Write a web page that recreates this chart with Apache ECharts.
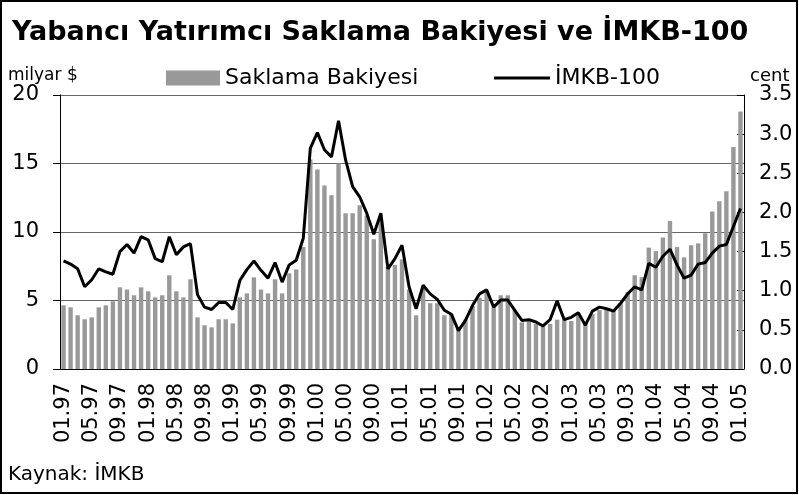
<!DOCTYPE html>
<html>
<head>
<meta charset="utf-8">
<script src="https://cdn.jsdelivr.net/npm/echarts@6/dist/echarts.min.js"></script>
<style>
    html,body{
        margin: 0;
        padding: 0;
        background: #fff;
    }
    #chart{
        width: 799px;
        height: 495px;
    }
</style>
</head>
<body>
<div id="chart"></div>
<script>
// aylar: 01.97 - 01.05
var months = [];
for (var y = 97; y <= 105; y++) {
    for (var m = 1; m <= 12; m++) {
        if (y == 105 && m > 1) break;
        months.push((m < 10 ? '0' + m : '' + m) + '.' + (y % 100 < 10 ? '0' + (y % 100) : '' + y));
    }
}

// milyar $
var saklama = [
    4.65, 4.5, 3.92, 3.63, 3.77, 4.5, 4.65, 4.94, 5.96, 5.8, 5.38, 5.96, 5.67, 5.23,
    5.38, 6.84, 5.67, 5.23, 6.55, 3.77, 3.19, 3.04, 3.63, 3.63, 3.33, 5.23, 5.52, 6.69,
    5.8, 5.52, 6.55, 5.52, 6.98, 7.27, 8.9, 15.3, 14.57, 13.4, 12.68, 15.0, 11.36, 11.36,
    11.95, 11.2, 9.47, 11.0, 7.42, 7.6, 8.0, 5.8, 3.92, 5.9, 4.8, 4.8, 3.92, 4.0,
    3.0, 3.6, 4.6, 5.2, 5.7, 4.5, 5.38, 5.38, 4.3, 3.4, 3.5, 3.3, 3.1, 3.3,
    3.6, 3.6, 3.5, 4.1, 3.4, 4.0, 4.3, 4.3, 4.3, 4.8, 5.6, 6.84, 6.7,
    8.86, 8.6, 9.6, 10.8, 8.9, 8.15, 9.03, 9.17, 9.9, 11.5, 12.24, 12.97, 16.2, 18.8
];

// cent
var imkb = [
    1.38, 1.34, 1.28, 1.05, 1.14, 1.28, 1.24, 1.21, 1.50, 1.59, 1.48, 1.69, 1.65, 1.41,
    1.37, 1.69, 1.46, 1.56, 1.60, 0.95, 0.79, 0.76, 0.85, 0.85, 0.76, 1.13, 1.27, 1.38,
    1.26, 1.16, 1.36, 1.11, 1.33, 1.39, 1.67, 2.82, 3.02, 2.80, 2.71, 3.17, 2.67, 2.33,
    2.20, 1.99, 1.72, 1.99, 1.28, 1.41, 1.58, 1.05, 0.77, 1.07, 0.96, 0.89, 0.75, 0.70,
    0.49, 0.62, 0.81, 0.96, 1.01, 0.79, 0.88, 0.88, 0.75, 0.62, 0.63, 0.60, 0.55, 0.63,
    0.87, 0.63, 0.66, 0.72, 0.56, 0.74, 0.79, 0.77, 0.74, 0.84, 0.96, 1.05, 1.01,
    1.35, 1.30, 1.44, 1.53, 1.33, 1.16, 1.20, 1.34, 1.36, 1.48, 1.57, 1.59, 1.82, 2.05
];

var leftTicks = [0, 5, 10, 15, 20];
var rightTicks = ['0.0', '0.5', '1.0', '1.5', '2.0', '2.5', '3.0', '3.5'];

var font = 'DejaVu Sans';

var option = {
    animation: false,
    backgroundColor: '#fff',
    title: [
        {
            text: 'Yabancı Yatırımcı Saklama Bakiyesi ve İMKB-100',
            left: 7,
            top: 14,
            textStyle: {fontFamily: font, fontWeight: 'bold', fontSize: 27, color: '#000'}
        },
        {
            text: 'milyar $',
            left: 3,
            top: 62,
            textStyle: {fontFamily: font, fontWeight: 'normal', fontSize: 17, color: '#000'}
        },
        {
            text: 'cent',
            left: 745,
            top: 62,
            textStyle: {fontFamily: font, fontWeight: 'normal', fontSize: 18, color: '#000'}
        },
        {
            text: 'Kaynak: İMKB',
            left: 3,
            top: 460,
            textStyle: {fontFamily: font, fontWeight: 'normal', fontSize: 20, color: '#000'}
        }
    ],
    legend: [
        {
            data: ['Saklama Bakiyesi'],
            left: 161,
            top: 62,
            icon: 'rect',
            itemWidth: 54,
            itemHeight: 15,
            textStyle: {fontFamily: font, fontSize: 22, color: '#000'}
        },
        {
            data: ['İMKB-100'],
            left: 489,
            top: 62,
            icon: 'rect',
            itemWidth: 56,
            itemHeight: 3,
            textStyle: {fontFamily: font, fontSize: 22, color: '#000'}
        }
    ],
    grid: {
        left: 60,
        right: 55,
        top: 95,
        bottom: 126
    },
    xAxis: {
        type: 'category',
        data: months,
        boundaryGap: true,
        axisLine: {lineStyle: {color: '#000', width: 1}},
        axisTick: {interval: 3, length: 8, lineStyle: {color: '#000'}},
        axisLabel: {
            interval: 3,
            rotate: 90,
            margin: 14,
            fontFamily: font,
            fontSize: 21,
            color: '#000'
        }
    },
    yAxis: [
        {
            type: 'value',
            min: 0,
            max: 20,
            interval: 5,
            axisLine: {show: true, lineStyle: {color: '#000'}},
            axisTick: {show: true, length: 7, lineStyle: {color: '#000'}},
            splitLine: {lineStyle: {color: '#666', width: 1}},
            axisLabel: {
                margin: 21,
                fontFamily: font,
                fontSize: 21,
                color: '#000',
                formatter: function (v) { return leftTicks.indexOf(v) >= 0 ? String(v) : ''; }
            }
        },
        {
            type: 'value',
            min: 0,
            max: 3.5,
            interval: 0.5,
            position: 'right',
            axisLine: {show: true, lineStyle: {color: '#000'}},
            axisTick: {show: true, inside: true, length: 7, lineStyle: {color: '#000'}},
            splitLine: {show: false},
            axisLabel: {
                margin: 15,
                fontFamily: font,
                fontSize: 21,
                color: '#000',
                formatter: function (v) { return rightTicks[Math.round(v * 2)]; }
            }
        }
    ],
    graphic: [
        {
            type: 'rect',
            shape: {x: 1, y: 1, width: 796, height: 492},
            style: {fill: 'none', stroke: '#000', lineWidth: 2},
            silent: true
        }
    ],
    series: [
        {
            name: 'Saklama Bakiyesi',
            type: 'bar',
            yAxisIndex: 0,
            barWidth: 4.4,
            itemStyle: {color: '#999999'},
            data: saklama
        },
        {
            name: 'İMKB-100',
            type: 'line',
            yAxisIndex: 1,
            symbol: 'none',
            lineStyle: {color: '#000', width: 3},
            itemStyle: {color: '#000'},
            data: imkb
        }
    ]
};

var myChart = echarts.init(document.getElementById('chart'));
myChart.setOption(option);
</script>
</body>
</html>
